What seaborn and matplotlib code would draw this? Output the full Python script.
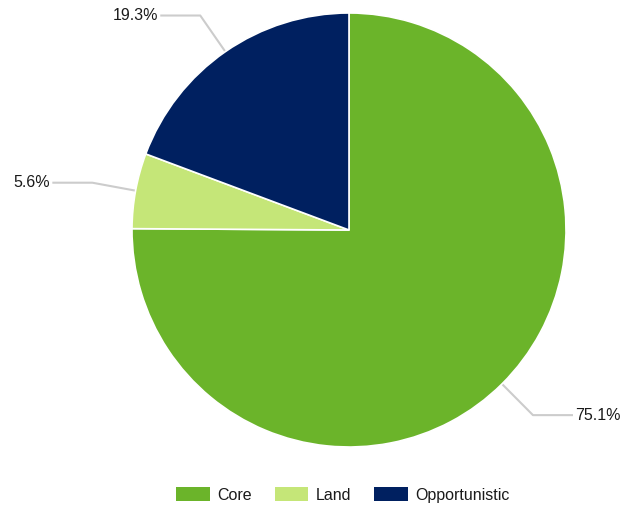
import matplotlib
matplotlib.use("Agg")
import matplotlib.pyplot as plt
import matplotlib.patches as mpatches
import seaborn as sns
import numpy as np

categories = ["Core", "Land", "Opportunistic"]
values = [75.1, 5.6, 19.3]
colors = ["#6BB42A", "#C5E678", "#002060"]

sns.set_theme(style="white")
plt.rcParams['font.family'] = ['Liberation Sans Narrow', 'Liberation Sans', 'DejaVu Sans']

W, H = 620, 508
fig = plt.figure(figsize=(W / 100, H / 100), dpi=100)
ax = fig.add_axes([0, 0, 1, 1])

cx, cy, r = 349, 508 - 230, 217
wedges, _ = ax.pie(values, colors=colors, startangle=90, counterclock=False,
                   center=(cx, cy), radius=r, frame=True,
                   wedgeprops=dict(edgecolor="white", linewidth=1.2))
ax.set_xlim(0, W)
ax.set_ylim(0, H)
ax.set_aspect('equal')
ax.axis('off')

for w, v in zip(wedges, values):
    ang = np.deg2rad((w.theta1 + w.theta2) / 2)
    x0, y0 = cx + r * np.cos(ang), cy + r * np.sin(ang)
    x1, y1 = cx + (r + 44) * np.cos(ang), cy + (r + 44) * np.sin(ang)
    side = 1 if np.cos(ang) >= 0 else -1
    x2 = x1 + side * 40
    ax.plot([x0, x1, x2], [y0, y1, y1], color="#CCCCCC", lw=1.5,
            solid_capstyle="butt", zorder=0)
    ax.text(x2 + side * 2, y1, f"{v:.1f}%", ha="left" if side > 0 else "right",
            va="center", fontsize=11.5, color="#1A1A1A")

handles = [mpatches.Patch(facecolor=c, edgecolor="none", label=l)
           for c, l in zip(colors, categories)]
leg = fig.legend(handles=handles, loc="center", bbox_to_anchor=(343 / W, 1 - 495 / H),
                 ncol=3, frameon=False, fontsize=11.5, handlelength=2.1, handleheight=0.95,
                 handletextpad=0.5, columnspacing=1.4)
for t in leg.get_texts():
    t.set_color("#1A1A1A")

fig.savefig("out.png", dpi=100)
